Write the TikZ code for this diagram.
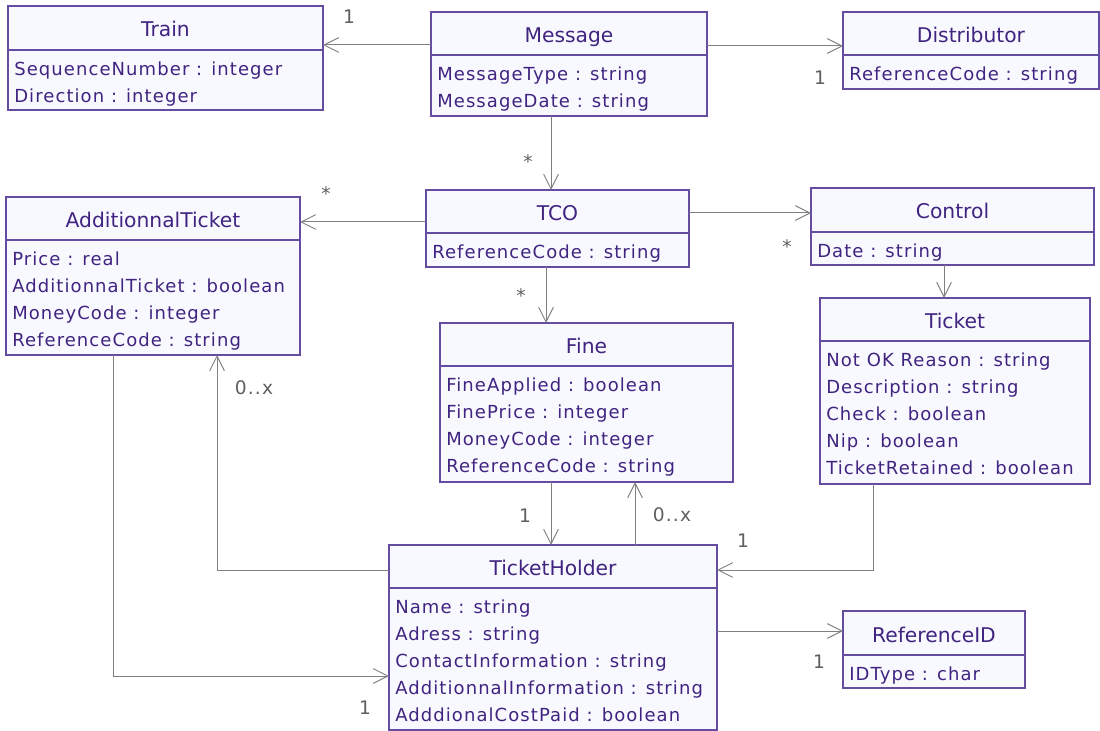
\documentclass[tikz,border=0pt]{standalone}
\usepackage{fontspec}
\setmainfont{DejaVu Sans}
\newfontfamily\attrfont[LetterSpace=6]{DejaVu Sans}
\usetikzlibrary{arrows.meta,fit}
\definecolor{txt}{RGB}{64,36,128}
\definecolor{brd}{RGB}{100,76,160}
\definecolor{fil}{RGB}{248,248,255}
\definecolor{lin}{RGB}{128,128,128}
\definecolor{lab}{RGB}{95,95,95}
\tikzset{
  classbox/.style={draw=brd,fill=fil,line width=0.9pt,inner sep=0pt,outer sep=0pt},
  divider/.style={draw=brd,line width=0.9pt},
  ctitle/.style={text=txt,font=\fontsize{15.2}{18}\selectfont,inner sep=0pt,anchor=base},
  cattr/.style={text=txt,font=\attrfont\fontsize{13.5}{16}\selectfont,inner sep=0pt,anchor=base west},
  conn/.style={draw=lin,line width=0.75pt,-{Straight Barb[length=11pt,width=11pt]}},
  mult/.style={text=lab,font=\attrfont\fontsize{14}{16}\selectfont,inner sep=0pt,anchor=center}
}
\newcommand{\umlcls}[8]{%
  \node[classbox,fit={(#2,#3)(#4,#5)}] (#1) {};
  \draw[divider] (#1.west |- 0,#6) -- (#1.east |- 0,#6);
  \node[ctitle] (#1-title) at ({(#2+#4)/2},{(#3+#6)/2+9}) {#7};
  \foreach \a [count=\i] in {#8} {
    \node[cattr] (#1-a\i) at (#2+6,{#6+25.5+27*(\i-1)}) {\a};
  }
}
\begin{document}
\begin{tikzpicture}[x=0.75pt,y=-0.75pt]
\useasboundingbox (0,0) rectangle (1100,731);
\umlcls{Train}{8}{6}{323}{110}{50}{Train}{SequenceNumber : integer,Direction : integer}
\umlcls{Message}{431}{12}{707}{116}{55}{Message}{MessageType : string,MessageDate : string}
\umlcls{Distributor}{843}{12}{1099}{89}{55}{Distributor}{ReferenceCode : string}
\umlcls{AddT}{6}{197}{300}{355}{240}{AdditionnalTicket}{Price : real,AdditionnalTicket : boolean,MoneyCode : integer,ReferenceCode : string}
\umlcls{TCO}{426}{190}{689}{267}{233}{TCO}{ReferenceCode : string}
\umlcls{Control}{811}{188}{1094}{265}{232}{Control}{Date : string}
\umlcls{Ticket}{820}{298}{1090}{484}{341}{Ticket}{Not OK Reason : string,Description : string,Check : boolean,Nip : boolean,TicketRetained : boolean}
\umlcls{Fine}{440}{323}{733}{482}{366}{Fine}{FineApplied : boolean,FinePrice : integer,MoneyCode : integer,ReferenceCode : string}
\umlcls{TH}{389}{545}{717}{730}{588}{TicketHolder}{Name : string,Adress : string,ContactInformation : string,AdditionnalInformation : string,AdddionalCostPaid : boolean}
\umlcls{RefID}{843}{611}{1025}{688}{655}{ReferenceID}{IDType : char}

\draw[conn] (Message.west |- 0,45) -- (Train.east |- 0,45);
\draw[conn] (Message.east |- 0,46) -- (Distributor.west |- 0,46);
\draw[conn] (551,0 |- Message.south) -- (551,0 |- TCO.north);
\draw[conn] (TCO.west |- 0,222) -- (AddT.east |- 0,222);
\draw[conn] (TCO.east |- 0,213) -- (Control.west |- 0,213);
\draw[conn] (546,0 |- TCO.south) -- (546,0 |- Fine.north);
\draw[conn] (944,0 |- Control.south) -- (944,0 |- Ticket.north);
\draw[conn] (551,0 |- Fine.south) -- (551,0 |- TH.north);
\draw[conn] (635,0 |- TH.north) -- (635,0 |- Fine.south);
\draw[conn] (873,0 |- Ticket.south) |- (TH.east |- 0,570);
\draw[conn] (TH.west |- 0,570) -| (217,0 |- AddT.south);
\draw[conn] (113,0 |- AddT.south) |- (TH.west |- 0,676);
\draw[conn] (TH.east |- 0,631) -- (RefID.west |- 0,631);

\node[mult] (m1) at (349,17) {1};
\node[mult] (m2) at (820,78) {1};
\node[mult] (m3) at (528,162) {*};
\node[mult] (m4) at (326,194) {*};
\node[mult] (m5) at (787,247) {*};
\node[mult] (m6) at (521,296) {*};
\node[mult] (m7) at (525,516) {1};
\node[mult] (m8) at (672,515) {0..x};
\node[mult] (m9) at (743,541) {1};
\node[mult] (m10) at (254,388) {0..x};
\node[mult] (m11) at (365,708) {1};
\node[mult] (m12) at (819,662) {1};
\end{tikzpicture}
\end{document}
